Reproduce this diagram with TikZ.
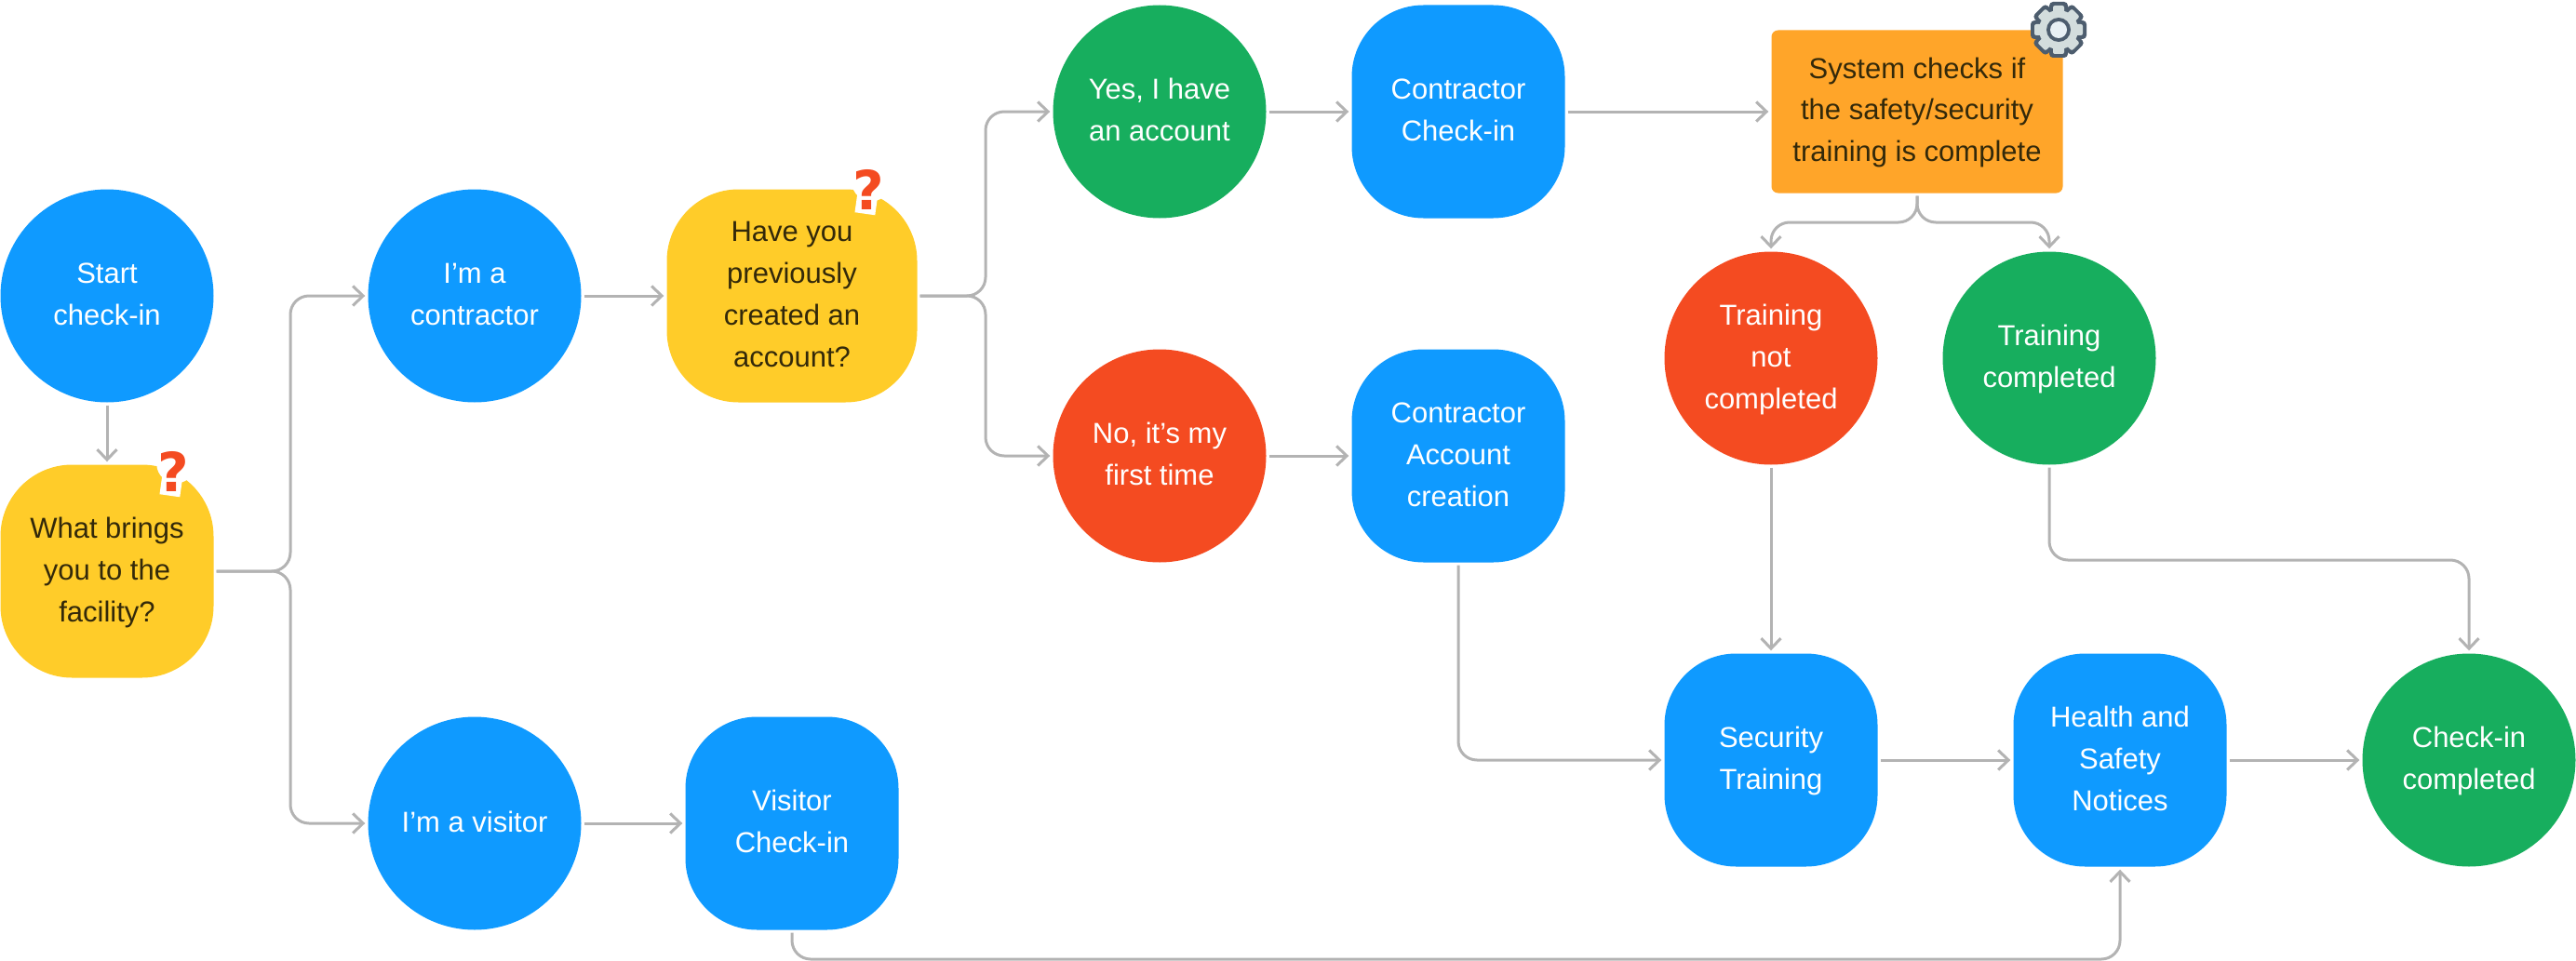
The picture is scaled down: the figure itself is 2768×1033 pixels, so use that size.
\documentclass[tikz,border=0pt]{standalone}
\usepackage{fontspec}
\setmainfont{Liberation Sans}
\newfontfamily\askfont{DejaVu Sans}
\usetikzlibrary{arrows.meta}
\definecolor{flow blue}{rgb}{0.0588, 0.6039, 1.0000}
\definecolor{flow yellow}{rgb}{1.0000, 0.8000, 0.1608}
\definecolor{flow orange}{rgb}{1.0000, 0.6471, 0.1608}
\definecolor{flow red}{rgb}{0.9569, 0.2941, 0.1294}
\definecolor{flow green}{rgb}{0.0902, 0.6824, 0.3686}
\definecolor{flow line}{rgb}{0.7020, 0.7020, 0.7020}
\definecolor{flow ink}{rgb}{0.2000, 0.1608, 0.0392}
\definecolor{gear dark}{rgb}{0.3020, 0.3647, 0.4314}
\definecolor{gear light}{rgb}{0.8275, 0.8667, 0.8667}
\definecolor{gear hub}{rgb}{0.9098, 0.9412, 0.9569}
\tikzset{
	label text/.style = {font=\fontsize{31}{45}\selectfont, inner sep=0pt},
	round node/.style = {label text, circle, minimum size=229pt, text=white},
	soft box/.style = {label text, rectangle, rounded corners=77pt, minimum width=229pt, minimum height=229pt},
	flow/.style = {draw=flow line, line width=3pt, rounded corners=20pt, shorten <=3pt, shorten >=3pt,
		-{Straight Barb[length=11pt, width=21pt, line width=3pt]}}
}
\newcommand{\flowtext}[1]{\begin{tabular}{@{}c@{}}#1\end{tabular}}
\newcommand{\askmark}[1]{
	\begin{scope}[shift={#1}, rotate=-8]
		\fill[white] (2pt, 9pt) circle (21pt);
		\fill[white] (-11pt, 10pt) rectangle (11pt, -26pt);
		\node (ask) [font=\fontsize{58}{58}\askfont\bfseries, text=flow red, inner sep=0pt] at (0, 0) {?};
	\end{scope}
}
\begin{document}
\begin{tikzpicture}[x=1pt, y=-1pt]
	\useasboundingbox (0, 0) rectangle (2768, 1033);
	% left column
	\node (start) [round node, fill=flow blue] at (115, 318) {\flowtext{Start\\check-in}};
	\node (brings) [soft box, fill=flow yellow, text=flow ink] at (115, 614) {\flowtext{What brings\\you to the\\facility?}};
	% contractor branch
	\node (contractor) [round node, fill=flow blue] at (510, 318) {\flowtext{I'm a\\contractor}};
	\node (account) [soft box, fill=flow yellow, text=flow ink, minimum width=269pt] at (851, 318) {\flowtext{Have you\\previously\\created an\\account?}};
	\node (yes) [round node, fill=flow green] at (1246, 120) {\flowtext{Yes, I have\\an account}};
	\node (no) [round node, fill=flow red] at (1246, 490) {\flowtext{No, it's my\\first time}};
	\node (checkin) [soft box, fill=flow blue, text=white] at (1567, 120) {\flowtext{Contractor\\Check-in}};
	\node (creation) [soft box, fill=flow blue, text=white] at (1567, 490) {\flowtext{Contractor\\Account\\creation}};
	\node (system) [label text, rectangle, rounded corners=7pt, fill=flow orange, text=flow ink,
		minimum width=313pt, minimum height=175pt] at (2060, 120) {\flowtext{System checks if\\the safety/security\\training is complete}};
	\node (notdone) [round node, fill=flow red] at (1903, 385) {\flowtext{Training\\not\\completed}};
	\node (done) [round node, fill=flow green] at (2202, 385) {\flowtext{Training\\completed}};
	% visitor branch
	\node (visitor) [round node, fill=flow blue] at (510, 885) {\flowtext{I'm a visitor}};
	\node (visitorin) [soft box, fill=flow blue, text=white] at (851, 885) {\flowtext{Visitor\\Check-in}};
	% last row
	\node (security) [soft box, fill=flow blue, text=white] at (1903, 817) {\flowtext{Security\\Training}};
	\node (health) [soft box, fill=flow blue, text=white] at (2278, 817) {\flowtext{Health and\\Safety\\Notices}};
	\node (finished) [round node, fill=flow green] at (2653, 817) {\flowtext{Check-in\\completed}};
	% bends
	\coordinate (bringsfork) at (312, 614);
	\coordinate (accountfork) at (1059, 318);
	\coordinate (systemfork) at (2060, 239);
	\coordinate (donebend) at (2653, 602);
	\coordinate (visitorbend) at (851, 1031);
	% connectors
	\draw[flow] (start) -- (brings);
	\draw[flow] (brings.east) -- (bringsfork) |- (contractor.west);
	\draw[flow] (brings.east) -- (bringsfork) |- (visitor.west);
	\draw[flow] (contractor) -- (account);
	\draw[flow] (account.east) -- (accountfork) |- (yes.west);
	\draw[flow] (account.east) -- (accountfork) |- (no.west);
	\draw[flow] (yes) -- (checkin);
	\draw[flow] (no) -- (creation);
	\draw[flow] (checkin) -- (system);
	\draw[flow] (system.south) -- (systemfork) -| (notdone.north);
	\draw[flow] (system.south) -- (systemfork) -| (done.north);
	\draw[flow] (notdone) -- (security);
	\draw[flow] (done.south) |- (donebend) -- (finished.north);
	\draw[flow] (creation.south) |- (security.west);
	\draw[flow] (security) -- (health);
	\draw[flow] (health) -- (finished);
	\draw[flow] (visitor) -- (visitorin);
	\draw[flow] (visitorin.south) -- (visitorbend) -| (health.south);
	% question marks
	\askmark{(186, 507)}
	\askmark{(933, 204)}
	% gear
	\begin{scope}[shift={(2212, 32)}]
		\fill[gear dark] (0, 0) circle (25pt);
		\foreach \ang in {0, 45, ..., 135}
			\fill[gear dark, rotate=\ang, rounded corners=4pt] (-10pt, -30pt) rectangle (10pt, 30pt);
		\fill[gear light] (0, 0) circle (21pt);
		\foreach \ang in {0, 45, ..., 135}
			\fill[gear light, rotate=\ang, rounded corners=2pt] (-6pt, -26pt) rectangle (6pt, 26pt);
		\fill[gear dark] (0, 0) circle (13pt);
		\fill[gear hub] (0, 0) circle (9pt);
	\end{scope}
\end{tikzpicture}
\end{document}
